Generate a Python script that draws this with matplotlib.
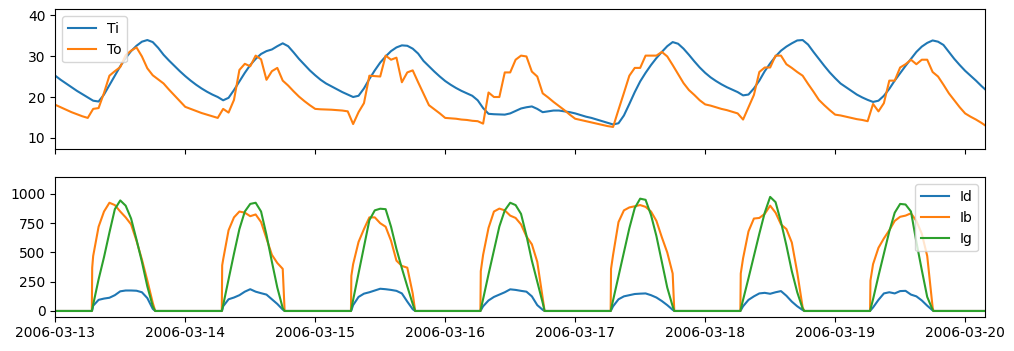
import numpy as np
import pandas as pd
import matplotlib.pyplot as plt
import matplotlib.dates as mdates

# ---------------------------------------
# DATA (hourly temperatures, irradiance per day)
# ---------------------------------------

start = pd.Timestamp("2006-03-13")

# temperatures, one value per hour from 2006-03-13 00:00, last point 03:40 on the 20th
top_hours = list(range(172)) + [171.67]

Ti = [
    25.2, 24.2, 23.3, 22.4, 21.5, 20.7, 19.9, 19.1, 18.9, 20.6, 22.9, 25.2,
    27.5, 29.5, 31.2, 32.5, 33.5, 33.9, 33.4, 32.0, 30.3, 28.9, 27.6, 26.3,
    25.1, 24.0, 23.0, 22.1, 21.3, 20.6, 20.0, 19.2, 19.8, 21.7, 23.8, 25.9,
    27.8, 29.3, 30.5, 31.2, 31.6, 32.4, 33.1, 32.4, 30.9, 29.3, 27.9, 26.5,
    25.3, 24.2, 23.3, 22.6, 21.9, 21.2, 20.6, 20.0, 20.3, 22.1, 24.4, 26.5,
    28.4, 29.9, 31.2, 32.1, 32.6, 32.5, 31.8, 30.6, 28.8, 27.5, 26.2, 25.0,
    23.9, 23.0, 22.2, 21.5, 20.9, 20.3, 19.2, 17.3, 15.9, 15.8, 15.75, 15.7,
    16.0, 16.6, 17.2, 17.5, 17.7, 17.1, 16.3, 16.5, 16.7, 16.7, 16.5, 16.3,
    16.0, 15.6, 15.2, 14.9, 14.5, 14.1, 13.7, 13.3, 13.6, 15.5, 18.3, 21.2,
    23.8, 25.9, 27.8, 29.5, 31.0, 32.4, 33.4, 33.0, 31.8, 30.3, 28.7, 27.2,
    25.9, 24.8, 23.9, 23.1, 22.4, 21.8, 21.2, 20.4, 20.6, 22.1, 24.0, 26.3,
    28.2, 29.9, 31.3, 32.3, 33.1, 33.8, 33.9, 32.8, 31.0, 29.3, 27.6, 26.0,
    24.6, 23.3, 22.4, 21.5, 20.6, 19.9, 19.3, 18.8, 19.1, 20.3, 22.0, 24.0,
    25.8, 27.6, 29.3, 31.0, 32.3, 33.2, 33.8, 33.5, 32.7, 31.0, 29.3, 27.8,
    26.4, 25.2, 24.0, 22.7, 21.9,
]

To = [
    18.1, 17.5, 16.9, 16.3, 15.8, 15.3, 14.9, 17.1, 17.3, 21.0, 25.2, 26.3,
    27.3, 30.2, 31.3, 32.1, 29.9, 27.0, 25.3, 24.3, 23.3, 21.8, 20.4, 19.0,
    17.6, 17.1, 16.6, 16.1, 15.7, 15.3, 14.9, 17.1, 16.2, 19.3, 26.6, 28.1,
    27.5, 30.1, 29.2, 24.2, 26.3, 27.1, 24.0, 22.8, 21.4, 20.1, 19.0, 18.0,
    17.1, 17.0, 16.95, 16.9, 16.8, 16.7, 16.5, 13.4, 16.3, 18.5, 25.2, 25.1,
    25.0, 30.1, 29.1, 29.6, 23.6, 26.0, 26.5, 23.6, 20.8, 18.0, 17.0, 16.0,
    14.9, 14.8, 14.7, 14.5, 14.4, 14.2, 14.1, 13.5, 21.1, 20.0, 20.0, 26.0,
    26.0, 29.1, 30.1, 29.9, 26.2, 25.0, 20.9, 19.9, 18.8, 17.8, 16.8, 15.7,
    14.7, 14.4, 14.1, 13.8, 13.5, 13.2, 12.9, 12.7, 16.9, 21.0, 25.2, 27.1,
    27.1, 30.1, 30.1, 30.1, 31.0, 29.9, 27.8, 25.6, 23.4, 21.7, 20.5, 19.2,
    18.2, 17.9, 17.5, 17.1, 16.8, 16.4, 16.0, 14.5, 17.5, 20.5, 26.1, 27.2,
    27.2, 30.1, 30.1, 28.0, 27.1, 26.1, 25.2, 23.2, 21.3, 19.3, 18.0, 16.8,
    15.7, 15.5, 15.2, 14.9, 14.6, 14.4, 14.1, 18.3, 16.5, 18.5, 24.0, 24.0,
    27.2, 28.0, 29.1, 28.0, 29.1, 29.1, 26.1, 25.0, 23.0, 20.9, 19.2, 17.5,
    16.0, 15.2, 14.5, 13.7, 13.1,
]

# irradiance: per day, sunrise, just after sunrise, 07:00 .. 18:00, sunset
sunrise = [6.75, 6.75, 6.6, 6.5, 6.55, 6.5, 6.45]
sunset = [18.45, 18.35, 18.45, 18.35, 18.3, 18.3, 18.15]

Id_days = [
    [0, 5, 45, 95, 106, 113, 135, 168, 175, 175, 173, 160, 110, 18, 0],
    [0, 5, 40, 100, 115, 135, 165, 186, 165, 152, 140, 100, 60, 12, 0],
    [0, 5, 50, 120, 148, 160, 175, 190, 186, 180, 172, 150, 80, 15, 0],
    [0, 5, 40, 90, 120, 140, 160, 185, 180, 172, 165, 125, 50, 10, 0],
    [0, 5, 40, 100, 125, 135, 145, 148, 150, 135, 115, 85, 50, 10, 0],
    [0, 5, 40, 95, 125, 150, 155, 147, 160, 170, 130, 80, 40, 8, 0],
    [0, 5, 30, 95, 150, 160, 150, 170, 172, 140, 125, 90, 45, 5, 0],
]

Ib_days = [
    [0, 370, 470, 720, 850, 925, 905, 850, 800, 740, 600, 440, 260, 70, 0],
    [0, 390, 440, 690, 800, 850, 840, 810, 825, 760, 620, 480, 410, 360, 0],
    [0, 300, 400, 590, 700, 800, 800, 750, 720, 600, 430, 385, 370, 150, 0],
    [0, 340, 480, 710, 850, 875, 860, 815, 795, 740, 637, 570, 420, 110, 0],
    [0, 360, 480, 760, 860, 885, 895, 905, 890, 850, 770, 630, 500, 320, 0],
    [0, 320, 450, 680, 790, 795, 830, 900, 840, 740, 700, 585, 330, 30, 0],
    [0, 260, 400, 540, 620, 690, 770, 805, 815, 835, 770, 660, 470, 30, 0],
]

Ig_days = [
    [0, 15, 55, 270, 460, 670, 870, 945, 900, 790, 610, 420, 210, 40, 0],
    [0, 15, 50, 270, 490, 700, 850, 915, 925, 850, 650, 420, 200, 25, 0],
    [0, 16, 95, 322, 549, 776, 860, 874, 870, 720, 530, 365, 210, 60, 0],
    [0, 14, 102, 314, 518, 722, 860, 925, 905, 830, 645, 430, 250, 70, 0],
    [0, 14, 92, 297, 502, 707, 880, 960, 950, 820, 640, 420, 200, 40, 0],
    [0, 14, 95, 280, 470, 660, 840, 975, 930, 760, 560, 340, 160, 20, 0],
    [0, 14, 100, 300, 490, 680, 840, 915, 910, 850, 590, 350, 120, 10, 0],
]


# ---------------------------------------
# BUILD TIME AXES
# ---------------------------------------

irr_hours = [0.0]
for d, (sr, ss) in enumerate(zip(sunrise, sunset)):
    irr_hours += [24 * d + h for h in [sr, sr + 0.07] + list(range(7, 19)) + [ss]]
irr_hours.append(171.67)


def flatten(days):
    return [0] + [v for row in days for v in row] + [0]


t_top = start + pd.to_timedelta(top_hours, unit="h")
t_irr = start + pd.to_timedelta(irr_hours, unit="h")

# ---------------------------------------
# PLOT
# ---------------------------------------

fig, (ax1, ax2) = plt.subplots(2, 1, sharex=True, figsize=(10.14, 3.51), dpi=100)
fig.subplots_adjust(left=0.0545, right=0.9714, top=0.9735, bottom=0.0977, hspace=0.206)

ax1.plot(t_top, Ti, label="Ti")
ax1.plot(t_top, To, label="To")
ax1.set_ylim(7.4, 41.4)
ax1.set_yticks([10, 20, 30, 40])
ax1.legend(loc="upper left")

ax2.plot(t_irr, flatten(Id_days), label="Id")
ax2.plot(t_irr, flatten(Ib_days), label="Ib")
ax2.plot(t_irr, flatten(Ig_days), label="Ig")
ax2.set_ylim(-49, 1142)
ax2.set_yticks([0, 250, 500, 750, 1000])
ax2.legend(loc="upper right")

ax2.set_xlim(t_top[0], t_top[-1])
ax2.xaxis.set_major_locator(mdates.DayLocator())
ax2.xaxis.set_major_formatter(mdates.DateFormatter("%Y-%m-%d"))

fig.savefig("out.png", dpi=100)
